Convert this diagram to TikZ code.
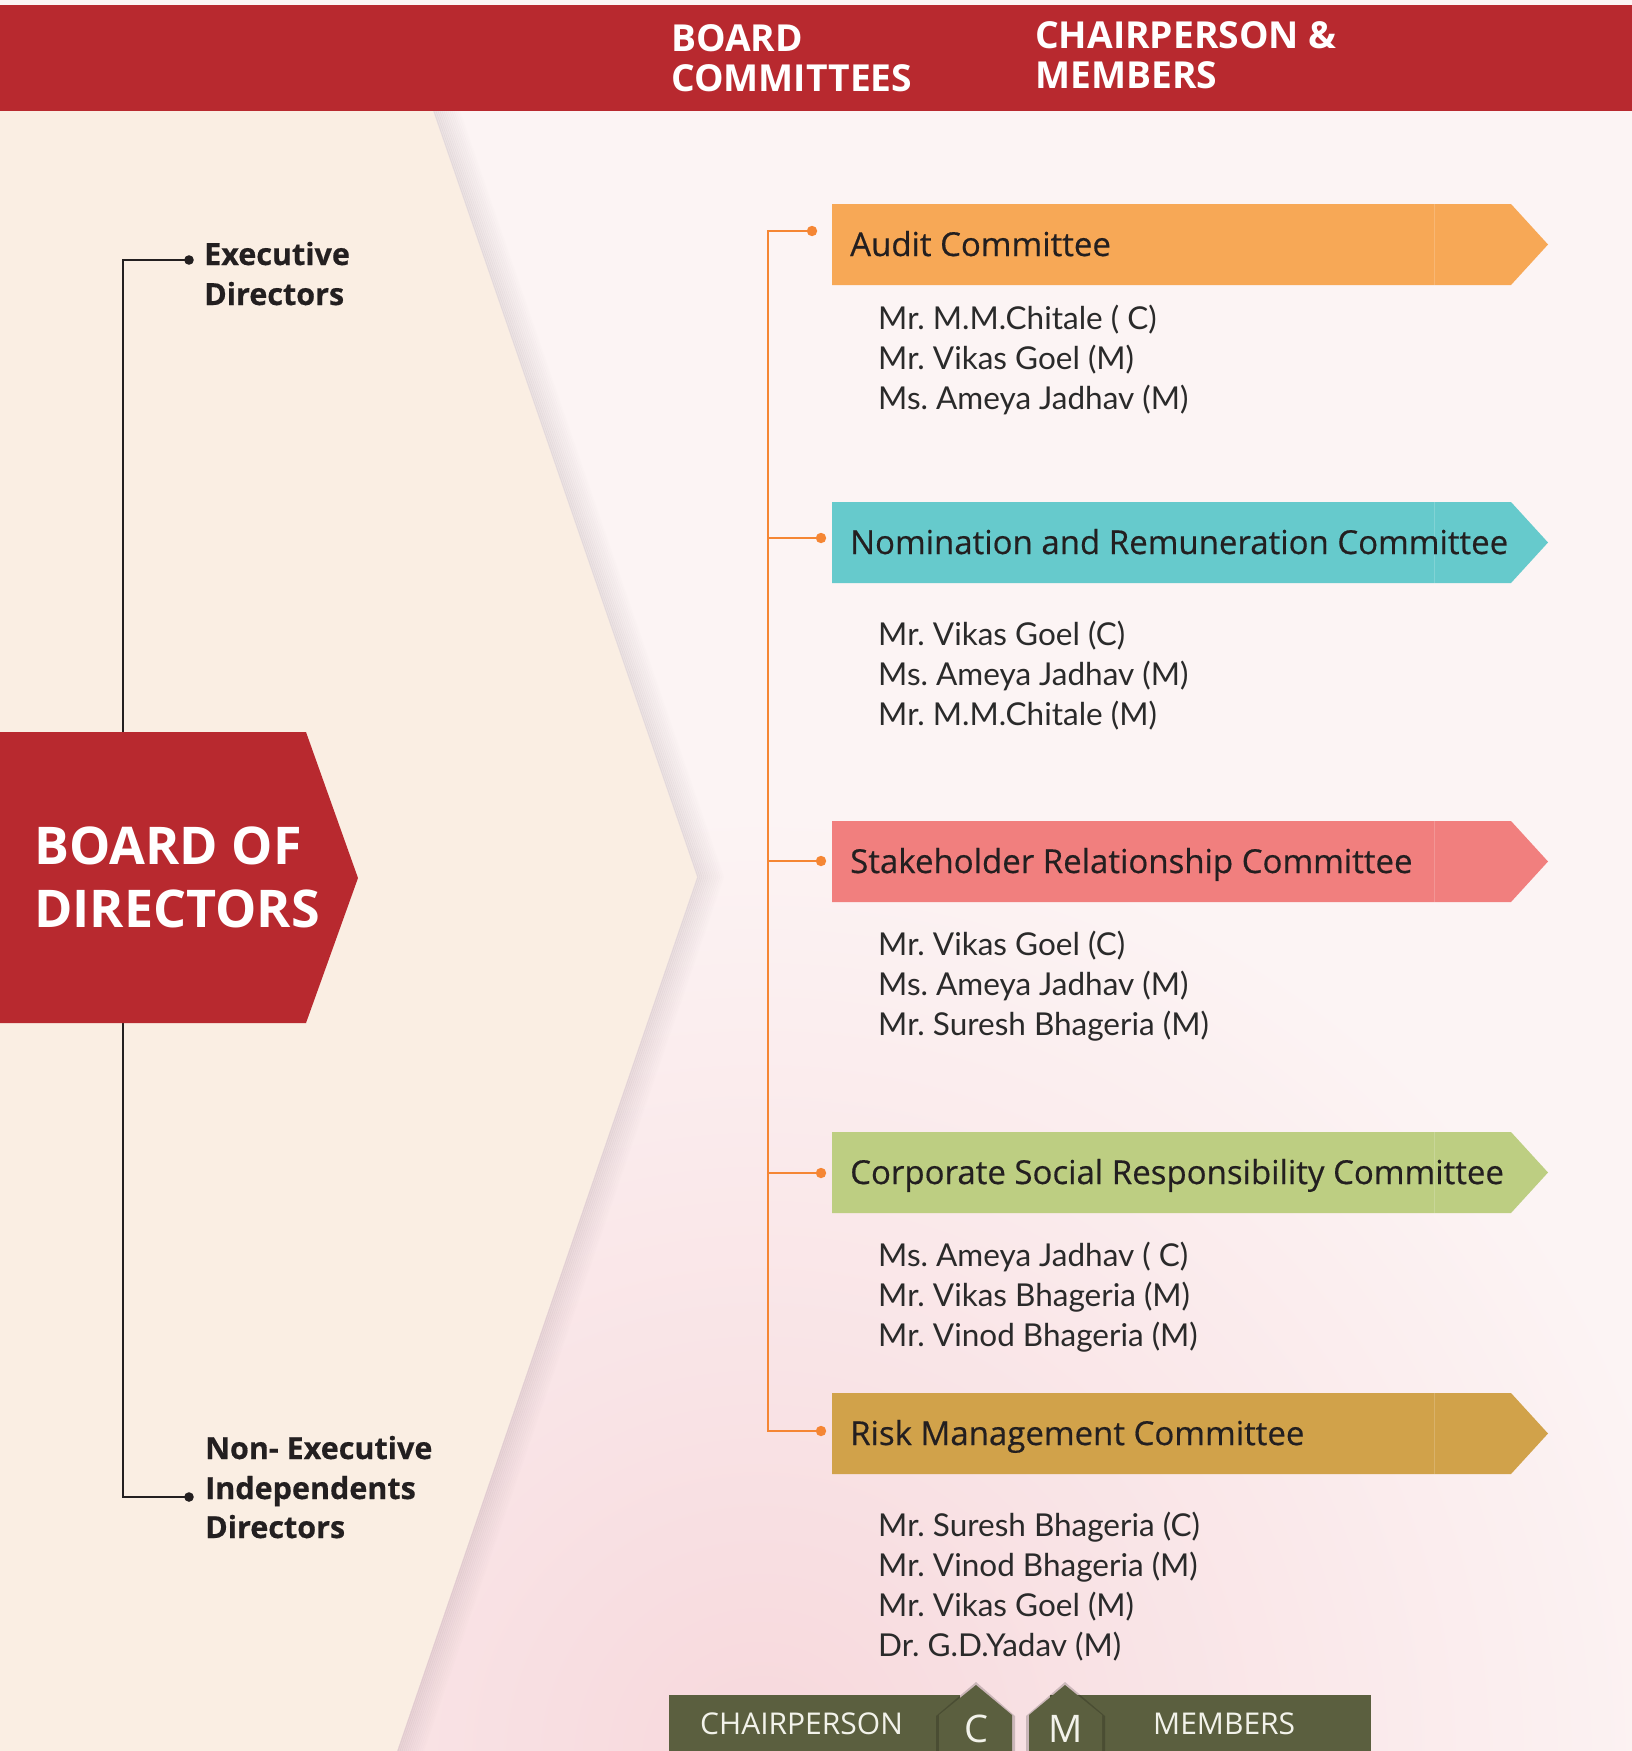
\documentclass[tikz,border=0pt]{standalone}
\usepackage{fontspec}
\setmainfont{Open Sans}
\newfontfamily\osemi[FakeBold=0.45]{Open Sans}
\newfontfamily\oxbold[FakeBold=0.5]{Open Sans Bold}
\newfontfamily\lato{Lato}
\definecolor{hred}{HTML}{B8292F}
\definecolor{cream}{HTML}{FAEEE3}
\definecolor{pinkbase}{HTML}{FCF4F4}
\definecolor{pinkdeep}{HTML}{F7D8DC}
\definecolor{shadowc}{HTML}{8E7C84}
\definecolor{orangeln}{HTML}{F58634}
\definecolor{auditc}{HTML}{F7A856}
\definecolor{nomc}{HTML}{66CACC}
\definecolor{stakec}{HTML}{F17F7E}
\definecolor{csrc}{HTML}{BDCE82}
\definecolor{riskc}{HTML}{D1A24A}
\definecolor{legc}{HTML}{5B5F3F}
\definecolor{legtext}{HTML}{F2F2EA}
\definecolor{darktext}{HTML}{231F20}
\definecolor{memtext}{HTML}{2A2A2A}
\newcommand\cbanner[4]{%
  \fill[#3] (832,#2) -- (1511,#2) -- (1548,#2+40.5) -- (1511,#2+81) -- (832,#2+81) -- cycle;
  \draw[white, opacity=0.18, line width=0.8pt] (1434,#2) -- (1434,#2+81);
  \node[btext] (#1) at (850,#2+52) {#4};}
\newcommand\members[3]{%
  \foreach \t [count=\i] in {#3} {\node[mem] (#1\i) at (878,#2+40*\i-40) {\t};}}
\frenchspacing
\begin{document}
\begin{tikzpicture}[x=1pt,y=-1pt,
  hdr/.style={anchor=base west, inner sep=0pt, text=white, font=\bfseries\fontsize{37.2}{37.2}\selectfont},
  bod/.style={anchor=base west, inner sep=0pt, text=white, font=\bfseries\fontsize{52}{52}\selectfont},
  lbl/.style={anchor=base west, inner sep=0pt, text=darktext, font=\oxbold\fontsize{30.5}{30.5}\selectfont},
  btext/.style={anchor=base west, inner sep=0pt, text=darktext, font=\osemi\fontsize{33}{33}\selectfont},
  mem/.style={anchor=base west, inner sep=0pt, text=memtext, font=\lato\fontsize{31.5}{31.5}\selectfont},
  legt/.style={anchor=base west, inner sep=0pt, text=legtext, font=\fontsize{30}{30}\selectfont},
  legl/.style={anchor=base, inner sep=0pt, text=legtext, font=\fontsize{38}{38}\selectfont},
  blackln/.style={draw=darktext, line width=2.6pt},
  orln/.style={draw=orangeln, line width=2.6pt},
]
\useasboundingbox (0,0) rectangle (1632,1751);
% background
\fill[pinkbase] (0,0) rectangle (1632,1751);
\begin{scope}
  \clip (0,111) rectangle (1632,1751);
  \shade[inner color=pinkdeep, outer color=pinkbase] (760,1760) circle (950pt);
\end{scope}
% chevron shadow
\foreach \d in {0,...,13} {
  \draw[shadowc, line width=2.2pt, opacity={0.16*(1-\d/14)}, xshift=\d*2pt]
    (433,111) -- (697,877) -- (397,1751);
}
\fill[cream] (0,111) -- (433,111) -- (697,877) -- (397,1751) -- (0,1751) -- cycle;
% header band
\fill[hred] (0,5) rectangle (1632,111);
\node[hdr] (h1) at (671,51) {BOARD};
\node[hdr] (h2) at (671,91) {COMMITTEES};
\node[hdr] (h3) at (1035,48) {CHAIRPERSON \&};
\node[hdr] (h4) at (1035,88) {MEMBERS};
% left tree
\coordinate (exdot) at (189,260);
\coordinate (nedot) at (189,1497);
\coordinate (exc) at (123,260);
\coordinate (nec) at (123,1497);
\draw[blackln] (exdot) -- (exc) -- (nec) -- (nedot);
\fill[darktext] (exdot) circle (4.8pt);
\fill[darktext] (nedot) circle (4.8pt);
\node[lbl] (ex1) at (204,265) {Executive};
\node[lbl] (ex2) at (204,305) {Directors};
\node[lbl] (ne1) at (205,1459) {Non- Executive};
\node[lbl] (ne2) at (205,1499) {Independents};
\node[lbl] (ne3) at (205,1538) {Directors};
% board of directors box
\fill[hred] (0,732) -- (306,732) -- (358,878) -- (306,1023) -- (0,1023) -- cycle;
\node[bod] (bod1) at (34,864) {BOARD OF};
\node[bod] (bod2) at (34,927) {DIRECTORS};
% committee connectors
\coordinate (dA) at (812,231);
\coordinate (dN) at (821,538);
\coordinate (dS) at (821,861);
\coordinate (dC) at (821,1173);
\coordinate (dR) at (821,1431);
\coordinate (tA) at (768,231);
\coordinate (tN) at (768,538);
\coordinate (tS) at (768,861);
\coordinate (tC) at (768,1173);
\coordinate (tR) at (768,1431);
\draw[orln] (dA) -- (tA) -- (tR) -- (dR);
\draw[orln] (tN) -- (dN);
\draw[orln] (tS) -- (dS);
\draw[orln] (tC) -- (dC);
\foreach \p in {dA,dN,dS,dC,dR} {\fill[orangeln] (\p) circle (5.2pt);}
% banners
\cbanner{audit}{204}{auditc}{Audit Committee}
\cbanner{nomin}{502}{nomc}{Nomination and Remuneration Committee}
\cbanner{stake}{821}{stakec}{Stakeholder Relationship Committee}
\cbanner{csr}{1132}{csrc}{Corporate Social Responsibility Committee}
\cbanner{risk}{1393}{riskc}{Risk Management Committee}
% members
\members{ma}{329}{Mr. M.M.Chitale ( C),Mr. Vikas Goel (M),Ms. Ameya Jadhav (M)}
\members{mn}{645}{Mr. Vikas Goel (C),Ms. Ameya Jadhav (M),Mr. M.M.Chitale (M)}
\members{ms}{955.5}{Mr. Vikas Goel (C),Ms. Ameya Jadhav (M),Mr. Suresh Bhageria (M)}
\members{mc}{1266}{Ms. Ameya Jadhav ( C),Mr. Vikas Bhageria (M),Mr. Vinod Bhageria (M)}
\members{mr}{1536.5}{Mr. Suresh Bhageria (C),Mr. Vinod Bhageria (M),Mr. Vikas Goel (M),Dr. G.D.Yadav (M)}
% legend
\fill[legc] (669,1695) rectangle (960,1751);
\fill[legc] (1050,1695) rectangle (1371,1751);
\fill[black, opacity=0.18] (936,1751) -- (936,1716) -- (976,1682) -- (1015,1716) -- (1015,1751) -- cycle;
\fill[black, opacity=0.18] (1026,1751) -- (1026,1716) -- (1065,1682) -- (1105,1716) -- (1105,1751) -- cycle;
\fill[legc] (939,1751) -- (939,1715) -- (976,1685) -- (1012,1715) -- (1012,1751) -- cycle;
\fill[legc] (1029,1751) -- (1029,1715) -- (1065,1685) -- (1102,1715) -- (1102,1751) -- cycle;
\node[legt] (lchair) at (700,1734) {CHAIRPERSON};
\node[legl] (lc) at (976,1742) {C};
\node[legl] (lm) at (1066,1742) {M};
\node[legt] (lmem) at (1153,1734) {MEMBERS};
\end{tikzpicture}
\end{document}
